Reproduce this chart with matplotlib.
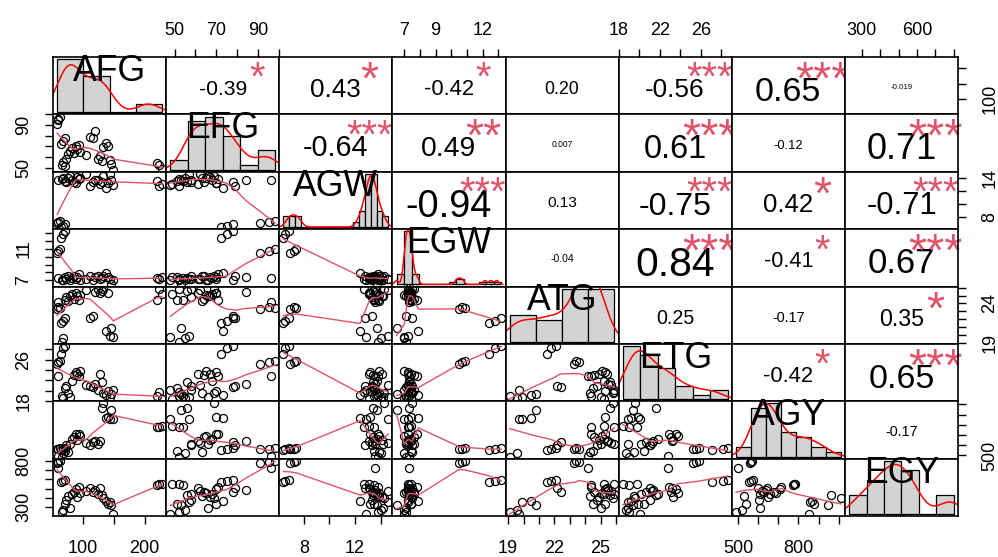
import numpy as np
import matplotlib
matplotlib.use("Agg")
import matplotlib.pyplot as plt
from matplotlib.font_manager import FontProperties
from matplotlib.textpath import TextPath

plt.rcParams["font.family"] = ["Liberation Sans", "DejaVu Sans"]

names = ["AFG", "EFG", "AGW", "EGW", "ATG", "ETG", "AGY", "EGY"]

AFG = [58, 60, 62, 64, 68, 71, 60, 66, 68, 70, 73, 75, 78, 82, 85, 88, 90, 93, 95,
       105, 112, 116, 119, 124, 128, 131, 133, 137, 140, 143, 146, 149, 220, 224, 228]
EFG = [91, 95, 98, 72, 75, 78, 96, 52, 55, 51, 58, 63, 66, 68, 64, 70, 67, 71, 65,
       62, 79, 78, 84, 58, 61, 56, 69, 73, 70, 57, 53, 48, 54, 52, 49]
AGW = [6.95, 7.2, 7.4, 6.4, 6.5, 6.8, 13.6, 13.8, 14.0, 13.5, 13.3, 13.9, 14.2, 13.7, 13.4, 13.2, 14.1, 13.8, 13.9,
       14.6, 12.8, 13.3, 13.6, 13.6, 13.1, 13.4, 14.3, 12.4, 13.2, 14.6, 13.7, 12.9, 13.5, 12.7, 13.1]
EGW = [10.5, 10.7, 10.9, 12.4, 12.8, 13.2, 7.3, 7.1, 7.0, 7.4, 7.2, 7.5, 7.1, 7.3, 7.6, 7.2, 7.4, 7.8, 7.0,
       7.2, 7.5, 7.1, 7.4, 7.6, 7.2, 7.3, 7.5, 7.9, 7.4, 7.2, 6.5, 7.0, 7.3, 7.2, 7.4]
ATG = [23.3, 23.6, 23.4, 21.5, 21.8, 22.1, 24.2, 19.1, 19.6, 24.5, 24.8, 24.3, 25.0, 25.2, 24.6, 25.3, 24.9, 24.4, 25.1,
       25.7, 22.2, 22.4, 25.5, 25.9, 25.4, 25.6, 25.8, 20.5, 25.3, 19.9, 20.8, 19.7, 24.4, 25.9, 25.2]
ETG = [25.2, 25.5, 25.8, 27.1, 28.2, 28.6, 22.8, 19.0, 18.7, 20.5, 21.0, 19.5, 18.9, 21.8, 23.1, 23.6, 23.3, 22.9, 23.8,
       21.2, 21.0, 20.7, 21.3, 20.2, 23.2, 21.6, 19.6, 19.2, 19.9, 18.9, 19.4, 20.1, 19.0, 19.8, 18.4]
AGY = [560, 565, 570, 555, 565, 575, 498, 490, 520, 540, 605, 530, 610, 660, 680, 708, 650, 715, 690,
       620, 600, 630, 640, 610, 645, 960, 1010, 870, 880, 860, 945, 855, 775, 780, 785]
EGY = [775, 790, 800, 575, 588, 598, 720, 250, 270, 340, 380, 420, 290, 440, 470, 500, 410, 515, 455,
       480, 505, 460, 490, 440, 510, 430, 395, 370, 340, 355, 330, 230, 545, 555, 552]

columns = [AFG, EFG, AGW, EGW, ATG, ETG, AGY, EGY]

# histogram breaks for the diagonal
hist_breaks = [
    [50, 100, 150, 200, 250],
    [40, 50, 60, 70, 80, 90, 100],
    list(np.arange(6.0, 15.01, 0.5)),
    list(np.arange(6.5, 13.51, 0.5)),
    [19, 21, 23, 25, 27],
    [18, 20, 22, 24, 26, 28, 30],
    [400, 500, 600, 700, 800, 900, 1000, 1100],
    [200, 300, 400, 500, 600, 700, 800],
]

# axis ticks, labels on the outer (top/bottom) and side (left/right) axes
tick_vals = [
    [100, 150, 200],
    [50, 60, 70, 80, 90, 100],
    [8, 10, 12, 14],
    [7, 8, 9, 10, 11, 12, 13],
    [19, 20, 21, 22, 23, 24, 25, 26],
    [18, 20, 22, 24, 26, 28],
    [500, 600, 700, 800, 900, 1000],
    [300, 400, 500, 600, 700, 800],
]
edge_labels = [[100, 200], [50, 70, 90], [8, 12], [7, 9, 12], [19, 22, 25], [18, 22, 26], [500, 800], [300, 600]]
side_labels = [[100], [50, 90], [8, 14], [7, 11], [19, 24], [18, 26], [500], [300, 800]]

# correlation cells, upper triangle row by row
cor_text = [
    ["-0.39", "0.43", "-0.42", "0.20", "-0.56", "0.65", "-0.019"],
    ["-0.64", "0.49", "0.007", "0.61", "-0.12", "0.71"],
    ["-0.94", "0.13", "-0.75", "0.42", "-0.71"],
    ["-0.04", "0.84", "-0.41", "0.67"],
    ["0.25", "-0.17", "0.35"],
    ["-0.42", "0.65"],
    ["-0.17"],
]
cor_stars = [
    ["*", "*", "*", "", "***", "***", ""],
    ["***", "**", "", "***", "", "***"],
    ["***", "", "***", "*", "***"],
    ["", "***", "*", "***"],
    ["", "", "*"],
    ["*", "***"],
    [""],
]

DPI = 100
W, H = 998, 557
L, R, T, B = 53, 958, 57, 516
nv = len(names)
pw = (R - L) / nv
ph = (B - T) / nv
FONT = "Liberation Sans"
SMOOTH = "#DF536B"


def lowess(x, y, f=2 / 3, iters=3):
    x = np.asarray(x, float)
    y = np.asarray(y, float)
    o = np.argsort(x, kind="mergesort")
    x, y = x[o], y[o]
    n = len(x)
    ns = max(min(int(f * n + 1e-7), n), 2)
    fit = np.zeros(n)
    rw = np.ones(n)
    for _ in range(iters + 1):
        for i in range(n):
            d = np.abs(x - x[i])
            h = np.sort(d)[ns - 1]
            if h > 0:
                u = d / h
                w = np.where(u < 0.999, (1 - u ** 3) ** 3, 0.0)
            else:
                w = (d == 0).astype(float)
            w = w * rw
            sw = w.sum()
            if sw <= 0:
                fit[i] = y[i]
                continue
            xm = (w * x).sum() / sw
            ym = (w * y).sum() / sw
            sxx = (w * (x - xm) ** 2).sum()
            if np.sqrt(sxx / sw) > 0.001 * (x[-1] - x[0]):
                b = (w * (x - xm) * (y - ym)).sum() / sxx
                fit[i] = ym + b * (x[i] - xm)
            else:
                fit[i] = ym
        res = y - fit
        cmad = 6 * np.median(np.abs(res))
        if cmad < 1e-12:
            break
        u = np.abs(res) / cmad
        rw = np.where(u < 1, (1 - u ** 2) ** 2, 0.0)
    return x, fit


def density(x):
    x = np.asarray(x, float)
    n = len(x)
    q75, q25 = np.percentile(x, [75, 25])
    lo = min(x.std(ddof=1), (q75 - q25) / 1.34)
    if lo <= 0:
        lo = x.std(ddof=1)
    bw = 0.9 * lo * n ** -0.2
    g = np.linspace(x.min() - 3 * bw, x.max() + 3 * bw, 512)
    d = np.exp(-0.5 * ((g[:, None] - x[None, :]) / bw) ** 2).sum(1) / (n * bw * np.sqrt(2 * np.pi))
    return g, d


fig = plt.figure(figsize=(W / DPI, H / DPI), dpi=DPI)
renderer = fig.canvas.get_renderer()


def em_for_width(s, width_px):
    fp = FontProperties(family=FONT, size=100)
    w, _, _ = renderer.get_text_width_height_descent(s, fp, ismath=False)
    return width_px / w * (100 * DPI / 72)


def put_text(ax, x, y, s, em_px, color="black", drop=0.1):
    # centre the ink of the string on (x, y), then drop it slightly
    path = TextPath((0, 0), s, size=1, prop=FontProperties(family=FONT))
    ext = path.get_extents()
    mid = (ext.y0 + ext.y1) / 2
    yb = y - (mid + drop) * em_px / ph
    ax.text(x, yb, s, transform=ax.transAxes, ha="center", va="baseline",
            fontsize=em_px * 72 / DPI, color=color, family=FONT)


limits = []
for col in columns:
    a = np.asarray(col, float)
    span = a.max() - a.min()
    limits.append((a.min() - 0.04 * span, a.max() + 0.04 * span))

axes = [[None] * nv for _ in range(nv)]
for i in range(nv):
    for j in range(nv):
        ax = fig.add_axes([(L + j * pw) / W, 1 - (T + (i + 1) * ph) / H, pw / W, ph / H])
        axes[i][j] = ax
        ax.set_xticks([])
        ax.set_yticks([])
        for sp in ax.spines.values():
            sp.set_linewidth(1.2)
            sp.set_zorder(5)

        if i == j:
            x = np.asarray(columns[i], float)
            br = np.asarray(hist_breaks[i], float)
            idx = np.searchsorted(br, x, side="left") - 1
            idx[idx < 0] = 0
            counts = np.bincount(idx, minlength=len(br) - 1)[:len(br) - 1]
            dens = counts / (len(x) * np.diff(br))
            ax.bar(br[:-1], dens, width=np.diff(br), align="edge",
                   color="#D3D3D3", edgecolor="black", linewidth=0.9)
            gx, gy = density(x)
            ax.plot(gx, gy, color="red", lw=1.1)
            ymax = dens.max()
            ax.vlines(x, -0.04 * ymax, -0.04 * ymax + 0.03 * 1.08 * ymax, color="black", lw=0.5)
            span = br[-1] - br[0]
            ax.set_xlim(br[0] - 0.04 * span, br[-1] + 0.04 * span)
            ax.set_ylim(-0.04 * ymax, 1.04 * ymax)
            put_text(ax, 0.5, 0.833, names[i], 35.6, drop=0.06)
        elif i > j:
            ax.plot(columns[j], columns[i], "o", mfc="none", mec="black", ms=5.8, mew=0.9)
            lx, ly = lowess(columns[j], columns[i])
            ax.plot(lx, ly, color=SMOOTH, lw=1.0)
            ax.set_xlim(limits[j])
            ax.set_ylim(limits[i])
        else:
            ax.set_xlim(limits[j])
            ax.set_ylim(limits[i])
            txt = cor_text[i][j - i - 1]
            stars = cor_stars[i][j - i - 1]
            r = float(txt)
            em_base = em_for_width(txt, 0.8 * pw)
            put_text(ax, 0.5, 0.5, txt, em_base * (abs(r) + 0.3) / 1.3)
            if stars:
                put_text(ax, 0.8, 0.8, stars, em_base, color=SMOOTH, drop=0.03)


def fmt(v):
    return str(int(v)) if float(v).is_integer() else str(v)


# outer axes: alternate bottom/top for columns and right/left for rows
for k in range(nv):
    shown = edge_labels[k]
    if k % 2 == 0:
        ax = axes[nv - 1][k]
        ax.xaxis.set_ticks_position("bottom")
        pad = 11
    else:
        ax = axes[0][k]
        ax.xaxis.set_ticks_position("top")
        pad = 7
    ax.set_xticks(tick_vals[k])
    ax.set_xticklabels([fmt(t) if t in shown else "" for t in tick_vals[k]])
    ax.tick_params(axis="x", length=6, width=1.0, labelsize=13, pad=pad, direction="out")
    ax.set_xlim(limits[k])

    shown = side_labels[k]
    if k % 2 == 0:
        ax = axes[k][nv - 1]
        ax.yaxis.set_ticks_position("right")
        pad = 11
    else:
        ax = axes[k][0]
        ax.yaxis.set_ticks_position("left")
        pad = 9
    ax.set_yticks(tick_vals[k])
    ax.set_yticklabels([fmt(t) if t in shown else "" for t in tick_vals[k]])
    ax.tick_params(axis="y", length=6, width=1.0, labelsize=13, pad=pad,
                   direction="out", labelrotation=90)
    for lab in ax.get_yticklabels():
        lab.set_va("center")
    ax.set_ylim(limits[k])

fig.savefig("out.png", dpi=DPI)
